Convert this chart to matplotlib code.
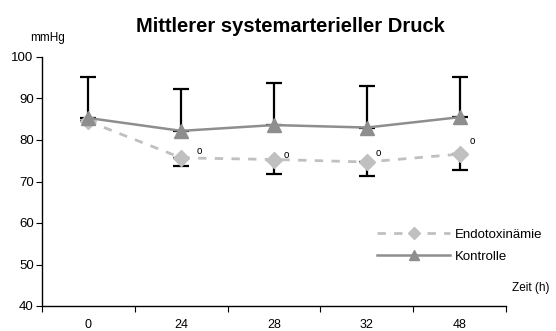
import matplotlib.pyplot as plt
import numpy as np

plt.rcParams['font.family'] = ['Liberation Sans', 'DejaVu Sans']

zeit = ['0', '24', '28', '32', '48']
kontrolle = [85.3, 82.2, 83.6, 83.0, 85.5]
kontrolle_sd = [9.9, 10.0, 10.1, 9.9, 9.8]
endotoxin = [84.5, 75.7, 75.3, 74.7, 76.6]
endotoxin_sd = [0.0, 1.9, 3.5, 3.4, 3.8]
signifikant = [False, True, True, True, True]

# offsets (points) of the significance marks next to each point
sig_dx = [0, 13, 9, 8, 9]
sig_dy = [0, 1, 0, 3, 6]

x = np.arange(len(zeit))

fig = plt.figure(figsize=(5.56, 3.31), dpi=100)
ax = fig.add_axes([42 / 556, 25 / 331, 464 / 556, 249 / 331])

# error bars: control only upwards, endotoxemia only downwards
ax.errorbar(x, kontrolle, yerr=[np.zeros(len(x)), kontrolle_sd], fmt='none',
            ecolor='black', elinewidth=1.6, capsize=5.5, capthick=1.6, zorder=2)
ax.errorbar(x, endotoxin, yerr=[endotoxin_sd, np.zeros(len(x))], fmt='none',
            ecolor='black', elinewidth=1.6, capsize=5.5, capthick=1.6, zorder=2)

ax.plot(x, endotoxin, color='#c0c0c0', linestyle=(0, (3, 3)), linewidth=2,
        marker='D', markersize=8, markeredgecolor='#c0c0c0', label='Endotoxinämie', zorder=3)
ax.plot(x, kontrolle, color='#8e8e8e', linestyle='-', linewidth=1.8,
        marker='^', markersize=10, markeredgecolor='#8e8e8e', label='Kontrolle', zorder=4)

for xi, yi, sig, dx, dy in zip(x, endotoxin, signifikant, sig_dx, sig_dy):
    if sig:
        ax.annotate('o', (xi, yi), xytext=(dx, dy), textcoords='offset points',
                    fontsize=7, ha='center', va='bottom')

ax.set_xlim(-0.5, len(zeit) - 0.5)
ax.set_ylim(40, 100)
ax.set_yticks(range(40, 101, 10))
ax.set_xticks(np.arange(-0.5, len(zeit), 1.0))
ax.set_xticklabels([])
ax.set_xticks(x, minor=True)
ax.set_xticklabels(zeit, minor=True)
ax.tick_params(axis='x', which='minor', length=0, pad=9, labelsize=9)
ax.tick_params(axis='x', which='major', length=4, direction='out')
ax.tick_params(axis='y', length=4, direction='out', labelsize=9.5, pad=2)

for side in ['top', 'right']:
    ax.spines[side].set_visible(False)
for side in ['left', 'bottom']:
    ax.spines[side].set_linewidth(1.0)

fig.text(290 / 556, 1 - 26 / 331, 'Mittlerer systemarterieller Druck', ha='center', va='center',
         fontsize=14.5, fontweight='bold')
fig.text(30 / 556, 1 - 38 / 331, 'mmHg', ha='left', va='center', fontsize=8.5)
fig.text(512 / 556, 1 - 288 / 331, 'Zeit (h)', ha='left', va='center', fontsize=8.5)

ax.legend(loc='upper left', bbox_to_anchor=(328 / 464, (306 - 222) / 249), frameon=False,
          fontsize=9.5, handlelength=5.6, handletextpad=0.3, labelspacing=0.75, borderpad=0,
          markerscale=0.75)

fig.savefig('out.png', dpi=100)
